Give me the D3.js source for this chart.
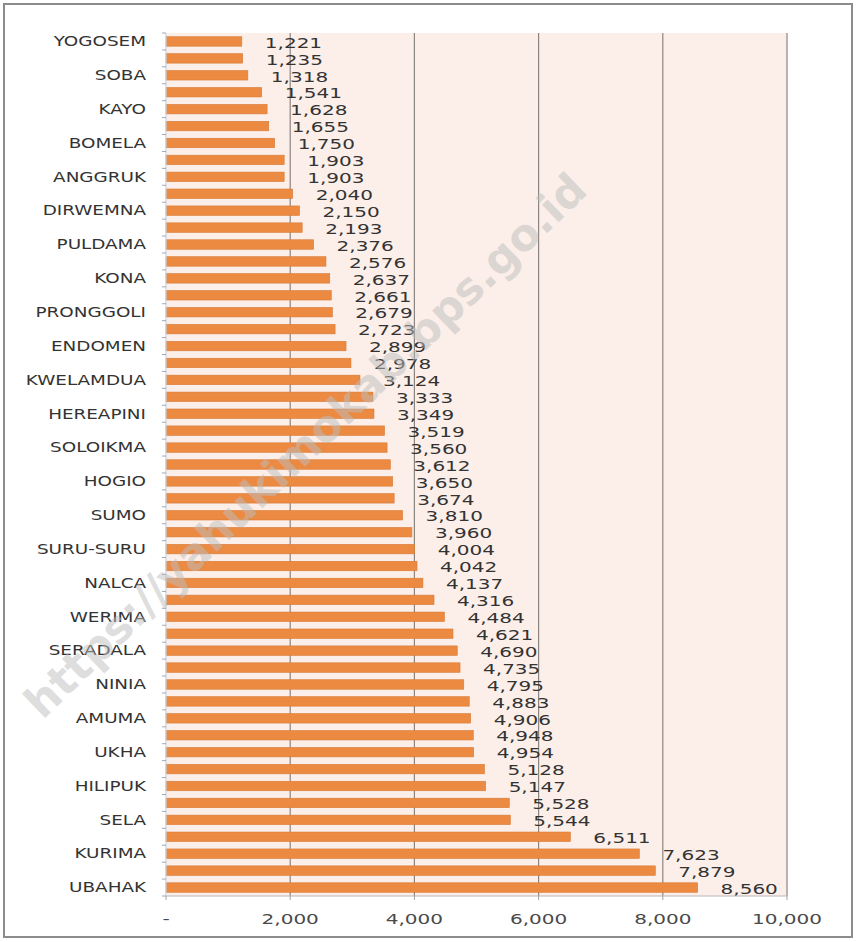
<!DOCTYPE html>
<meta charset="utf-8">
<style>
body { margin: 0; background: #fff; }
text { font-family: "DejaVu Sans", Verdana, sans-serif; }
</style>
<body>
<svg width="856" height="942"></svg>
<script src="https://d3js.org/d3.v7.min.js"></script>
<script>
// districts, sorted by value (only every second one is labelled on the axis)
var names = ["YOGOSEM", "", "SOBA", "", "KAYO", "", "BOMELA", "", "ANGGRUK", "",
  "DIRWEMNA", "", "PULDAMA", "", "KONA", "", "PRONGGOLI", "", "ENDOMEN", "",
  "KWELAMDUA", "", "HEREAPINI", "", "SOLOIKMA", "", "HOGIO", "", "SUMO", "",
  "SURU-SURU", "", "NALCA", "", "WERIMA", "", "SERADALA", "", "NINIA", "",
  "AMUMA", "", "UKHA", "", "HILIPUK", "", "SELA", "", "KURIMA", "", "UBAHAK"];
var values = [1221, 1235, 1318, 1541, 1628, 1655, 1750, 1903, 1903, 2040,
  2150, 2193, 2376, 2576, 2637, 2661, 2679, 2723, 2899, 2978,
  3124, 3333, 3349, 3519, 3560, 3612, 3650, 3674, 3810, 3960,
  4004, 4042, 4137, 4316, 4484, 4621, 4690, 4735, 4795, 4883,
  4906, 4948, 4954, 5128, 5147, 5528, 5544, 6511, 7623, 7879, 8560];
var xTicks = [0, 2000, 4000, 6000, 8000, 10000];

var svg = d3.select("svg");
var pL = 166, pR = 787, pT = 33, pB = 896;
var sx = 1.38; // glyphs in the picture are stretched horizontally

var x = d3.scaleLinear().domain([0, 10000]).range([pL, pR]);
var y = d3.scaleBand().domain(d3.range(values.length)).range([pT, pB]).paddingInner(0.44).paddingOuter(0.22);

// frame
svg.append("rect").attr("x", 4).attr("y", 4).attr("width", 848).attr("height", 933)
  .attr("fill", "#fff").attr("stroke", "#8c8c8c").attr("stroke-width", 2);

// plot background
svg.append("rect").attr("x", pL).attr("y", pT).attr("width", pR - pL).attr("height", pB - pT)
  .attr("fill", "#fcefea");

// gridlines
svg.append("g").selectAll("line").data(xTicks.slice(1)).enter().append("line")
  .attr("x1", function(d) { return x(d); }).attr("x2", function(d) { return x(d); })
  .attr("y1", pT).attr("y2", pB)
  .attr("stroke", "#8a8580").attr("stroke-width", 1.2);

// bars
svg.append("g").selectAll("rect").data(values).enter().append("rect")
  .attr("x", pL)
  .attr("y", function(d, i) { return y(i); })
  .attr("width", function(d) { return x(d) - pL; })
  .attr("height", y.bandwidth())
  .attr("fill", "#ec8a42")
  .attr("stroke", "#d77a35").attr("stroke-width", 0.6);

// value labels
var fmt = d3.format(",");
svg.append("g").selectAll("text").data(values).enter().append("text")
  .attr("transform", function(d, i) {
    return "translate(" + (x(d) + 23) + "," + (y(i) + y.bandwidth() / 2 + 1) + ") scale(" + sx + ",1)";
  })
  .attr("dy", "0.36em")
  .attr("font-size", 14.5)
  .attr("fill", "#333")
  .text(function(d) { return fmt(d); });

// y axis
var yAxis = svg.append("g").attr("transform", "translate(" + pL + ",0)");
yAxis.append("line").attr("x1", 0).attr("x2", 0).attr("y1", pT).attr("y2", pB)
  .attr("stroke", "#c9d3e0").attr("stroke-width", 1.2);
yAxis.selectAll("line.tk").data(d3.range(values.length + 1)).enter().append("line")
  .attr("class", "tk")
  .attr("x1", -4).attr("x2", 0)
  .attr("y1", function(i) { return pT + (pB - pT) * i / values.length; })
  .attr("y2", function(i) { return pT + (pB - pT) * i / values.length; })
  .attr("stroke", "#a0a8b4");
yAxis.selectAll("text").data(names).enter().append("text")
  .attr("transform", function(d, i) {
    return "translate(-20," + (y(i) + y.bandwidth() / 2) + ") scale(" + sx + ",1)";
  })
  .attr("dy", "0.36em")
  .attr("text-anchor", "end")
  .attr("font-size", 13.3)
  .attr("fill", "#333")
  .text(function(d) { return d; });

// x axis
var xAxis = svg.append("g");
xAxis.append("line").attr("x1", pL).attr("x2", pR).attr("y1", pB).attr("y2", pB)
  .attr("stroke", "#b8b8b8").attr("stroke-width", 1.2);
xAxis.selectAll("line.tk").data(xTicks).enter().append("line")
  .attr("class", "tk")
  .attr("x1", function(d) { return x(d); }).attr("x2", function(d) { return x(d); })
  .attr("y1", pB).attr("y2", pB + 4)
  .attr("stroke", "#a0a0a0");
xAxis.selectAll("text").data(xTicks).enter().append("text")
  .attr("transform", function(d) { return "translate(" + x(d) + "," + 919 + ") scale(" + sx + ",1)"; })
  .attr("dy", "0.36em")
  .attr("text-anchor", "middle")
  .attr("font-size", 14.5)
  .attr("fill", "#4a4a4a")
  .text(function(d) { return d === 0 ? "-" : fmt(d); });

// watermark
svg.append("text")
  .attr("transform", "translate(305,445) rotate(-44)")
  .attr("text-anchor", "middle")
  .attr("dy", "0.36em")
  .attr("font-size", 44)
  .attr("font-weight", "bold")
  .attr("fill", "#bdbdbd")
  .attr("fill-opacity", 0.5)
  .text("https://yahukimokab.bps.go.id");
</script>
</body>
